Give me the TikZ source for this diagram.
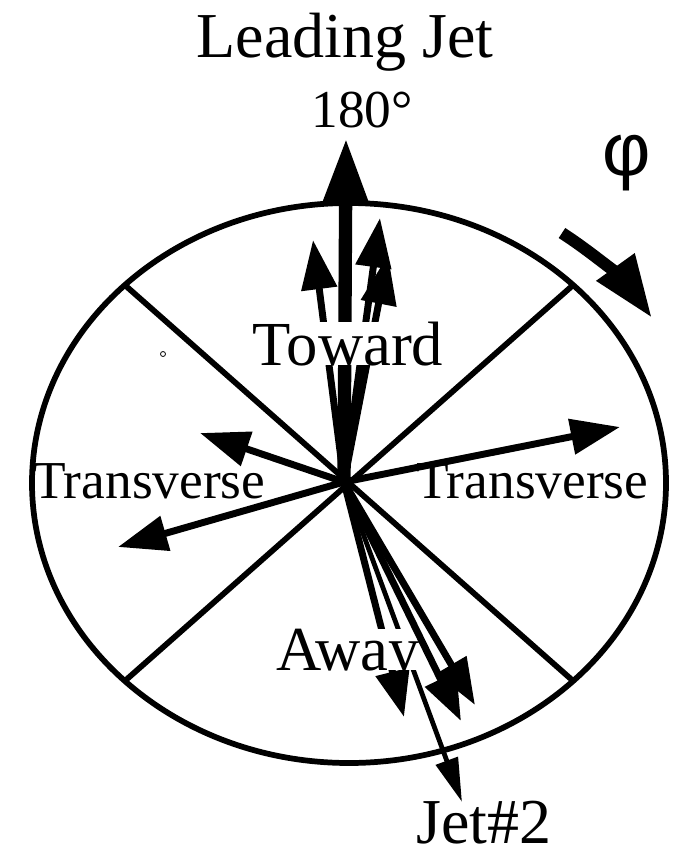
\documentclass[tikz,border=0pt]{standalone}
\usepackage{fontspec}
\setmainfont{Liberation Serif}
\newfontfamily\phifont{Liberation Sans}
\usetikzlibrary{arrows.meta}

\begin{document}
\begin{tikzpicture}[x=0.75pt, y=-0.75pt,
		rim/.style={line width=4.3pt},
		vec/.style={line width=5.2pt, -{Triangle[length=37pt, width=26pt]}},
		lead/.style={line width=10pt, -{Triangle[length=50pt, width=33pt]}},
		awayvec/.style={line width=5.2pt, -{Triangle[length=35pt, width=25pt]}},
		jetvec/.style={line width=3.6pt, -{Triangle[length=33pt, width=17pt]}},
		lbl/.style={inner sep=0pt, anchor=base}]
				\useasboundingbox (0,0) rectangle (684,858);
				\coordinate (c) at (349,483);
				\coordinate (O) at (344,482);
				\coordinate (tl) at (346,138);
				\coordinate (t1) at (313,240);
				\coordinate (t2) at (380,218);
				\coordinate (t3) at (388,255);
				\coordinate (l1) at (200,433);
				\coordinate (l2) at (118,547);
				\coordinate (r1) at (620,427);
				\coordinate (a1) at (404,717);
				\coordinate (a2) at (461,721);
				\coordinate (a3) at (475,705);
				\coordinate (j2) at (462,802);
				\coordinate (ps) at (562,233);
				\draw[rim] (c) ellipse [x radius=317, y radius=280];
				\draw[rim] (124.8,285) -- (573.2,681);
				\draw[rim] (573.2,285) -- (124.8,681);
				\draw[line width=0.6pt] (163,354) circle [radius=2.5];
				\draw[lead] (O) -- (tl);
				\draw[vec] (O) -- (t1);
				\draw[vec] (O) -- (t2);
				\draw[vec] (O) -- (t3);
				\draw[vec] (O) -- (l1);
				\draw[vec] (O) -- (l2);
				\draw[vec] (O) -- (r1);
				\draw[awayvec] (O) -- (a1);
				\draw[jetvec] (O) -- (j2);
				\draw[line width=9pt, -{Triangle[length=47pt, width=33pt]}] (ps) arc [start angle=-53.4, end angle=-32, x radius=357, y radius=311];
				\node[lbl, font=\fontsize{48}{50}\selectfont] (lead) at (345,57) {Leading Jet};
				\node[lbl, font=\fontsize{40}{42}\selectfont] (deg) at (362,127) {180°};
				\node[inner sep=0pt, font=\phifont\fontsize{56}{58}\selectfont] (phi) at (627,163) {φ};
				\node[lbl, fill=white, text depth=0pt, font=\fontsize{47}{49}\selectfont] (toward) at (348,365) {Toward};
				\node[lbl, fill=white, text depth=0pt, font=\fontsize{47}{49}\selectfont] (away) at (348,670) {Away};
				\node[lbl, anchor=base west, font=\fontsize{40}{42}\selectfont] (transL) at (33,498) {Transverse};
				\node[lbl, anchor=base west, font=\fontsize{40}{42}\selectfont] (transR) at (416,498) {Transverse};
				\node[lbl, anchor=base west, font=\fontsize{48}{50}\selectfont] (jet2) at (416,843) {Jet\#2};
				\draw[awayvec] (O) -- (a2);
				\draw[awayvec] (O) -- (a3);
			\end{tikzpicture}
\end{document}
